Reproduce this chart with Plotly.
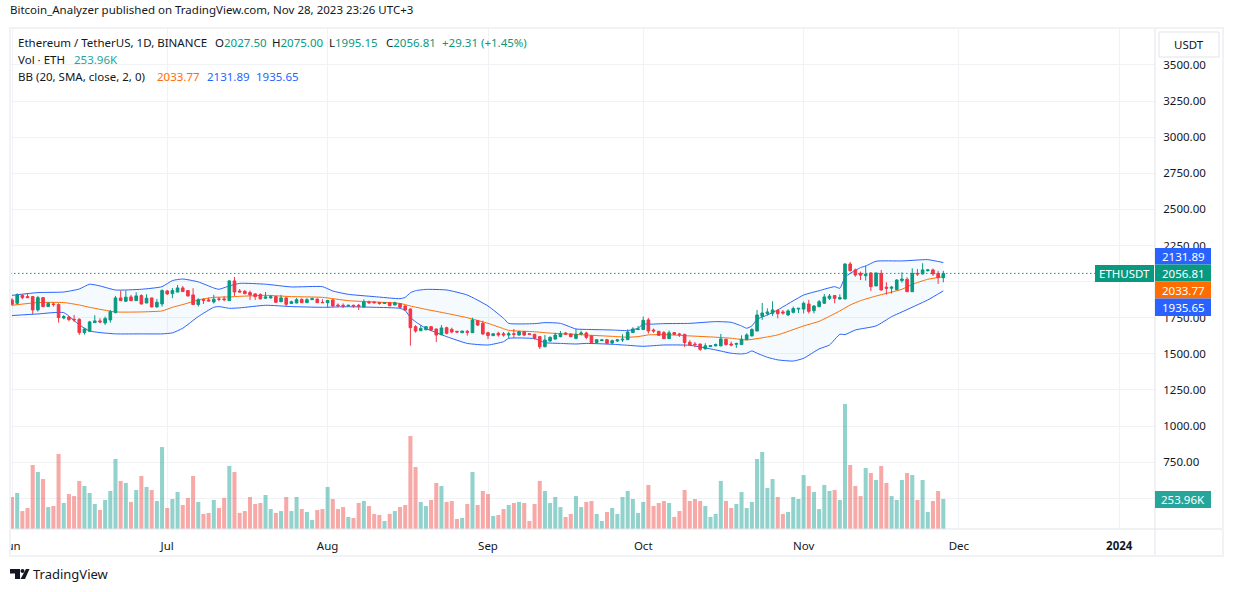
"""Ethereum / TetherUS daily chart with volume and Bollinger bands."""

import pandas as pd
import plotly.graph_objects as go

W, H = 1233, 592
FONT = "Noto Sans"
TEXT = "#131722"
GRID = "#f1f2f5"
EDGE = "#e0e3eb"
UP = "#089981"
DOWN = "#F23645"
BLUE = "#2962FF"
ORANGE = "#FF6D00"

dates = pd.date_range("2023-06-01", "2023-11-28", freq="D")

open_ = [
    1873, 1850, 1905, 1896, 1896, 1804, 1889, 1827, 1845, 1841, 1748, 1755, 1739, 1739, 1647,
    1656, 1716, 1728, 1714, 1735, 1785, 1887, 1864, 1894, 1868, 1903, 1852, 1887, 1825, 1845,
    1935, 1917, 1928, 1956, 1938, 1908, 1841, 1875, 1873, 1859, 1880, 1880, 1868, 2005, 1935, 1933,
    1924, 1915, 1910, 1885, 1887, 1896, 1861, 1887, 1848, 1852, 1877, 1854, 1875, 1879, 1856,
    1854, 1873, 1838, 1836, 1831, 1836, 1836, 1824, 1859, 1859, 1854, 1849, 1854, 1838, 1847, 1831,
    1810, 1688, 1660, 1667, 1688, 1672, 1632, 1681, 1669, 1656, 1646, 1656, 1646, 1729, 1711,
    1646, 1626, 1642, 1639, 1630, 1639, 1630, 1653, 1639, 1635, 1619, 1549, 1589, 1602, 1619,
    1644, 1637, 1607, 1637, 1644, 1624, 1578, 1591, 1598, 1575, 1589, 1596, 1598, 1647, 1668,
    1668, 1735, 1665, 1656, 1647, 1605, 1647, 1638, 1635, 1580, 1568, 1568, 1534, 1550, 1555, 1555,
    1601, 1568, 1566, 1564, 1598, 1624, 1658, 1760, 1778, 1781, 1801, 1790, 1769, 1787, 1810,
    1810, 1845, 1799, 1827, 1850, 1884, 1903, 1880, 1880, 2122, 2081, 2057, 2041, 2060,
    1970, 2057, 1961, 1954, 1944, 2007, 2016, 1930, 2057, 2053, 2076, 2081, 2057, 2027.5,
]
high = [
    1885, 1919, 1912, 1919, 1900, 1901, 1892, 1859, 1855, 1850, 1769, 1760, 1769, 1746, 1679,
    1728, 1767, 1746, 1758, 1804, 1901, 1938, 1938, 1908, 1926, 1912, 1912, 1889, 1880, 1947,
    1942, 1956, 1977, 1970, 1942, 1954, 1885, 1885, 1889, 1908, 1892, 1898, 2012, 2032, 1949, 1942,
    1938, 1919, 1919, 1928, 1908, 1901, 1908, 1892, 1868, 1887, 1884, 1886, 1889, 1884, 1879,
    1873, 1879, 1849, 1849, 1838, 1840, 1845, 1877, 1868, 1866, 1861, 1856, 1859, 1861, 1849, 1836,
    1815, 1699, 1699, 1692, 1692, 1674, 1699, 1688, 1681, 1656, 1658, 1665, 1750, 1734, 1729,
    1653, 1642, 1653, 1651, 1653, 1672, 1660, 1658, 1639, 1639, 1623, 1630, 1621, 1646, 1658,
    1651, 1642, 1672, 1660, 1653, 1628, 1603, 1603, 1603, 1598, 1603, 1635, 1670, 1684, 1693,
    1758, 1748, 1675, 1658, 1658, 1661, 1651, 1645, 1638, 1594, 1582, 1570, 1573, 1561, 1571, 1638,
    1603, 1585, 1578, 1628, 1642, 1677, 1804, 1852, 1815, 1864, 1808, 1804, 1808, 1827, 1817,
    1861, 1873, 1838, 1873, 1914, 1914, 1907, 1912, 2127, 2136, 2090, 2069, 2111, 2064,
    2062, 2081, 1995, 1970, 2016, 2064, 2030, 2092, 2087, 2127, 2087, 2090, 2074, 2075,
]
low = [
    1834, 1843, 1878, 1887, 1776, 1792, 1822, 1825, 1827, 1716, 1739, 1725, 1721, 1631, 1633,
    1654, 1714, 1711, 1700, 1716, 1781, 1866, 1859, 1866, 1866, 1841, 1850, 1820, 1820, 1827,
    1908, 1885, 1926, 1928, 1896, 1838, 1827, 1845, 1864, 1848, 1864, 1864, 1866, 1901, 1926, 1912,
    1873, 1873, 1878, 1880, 1882, 1852, 1857, 1831, 1845, 1850, 1852, 1852, 1873, 1852, 1852,
    1822, 1826, 1824, 1817, 1829, 1819, 1803, 1822, 1845, 1847, 1840, 1847, 1831, 1836, 1815, 1799,
    1556, 1646, 1658, 1662, 1658, 1582, 1630, 1635, 1642, 1644, 1646, 1626, 1644, 1692, 1632,
    1602, 1623, 1619, 1619, 1609, 1609, 1626, 1623, 1632, 1598, 1533, 1545, 1582, 1598, 1614,
    1630, 1614, 1600, 1628, 1602, 1568, 1575, 1589, 1566, 1564, 1582, 1582, 1596, 1645, 1665,
    1665, 1640, 1645, 1624, 1603, 1603, 1631, 1617, 1548, 1555, 1545, 1520, 1531, 1548, 1552, 1552,
    1557, 1552, 1541, 1561, 1596, 1621, 1656, 1735, 1765, 1762, 1746, 1771, 1762, 1780, 1783,
    1780, 1780, 1780, 1822, 1845, 1873, 1850, 1875, 1877, 2069, 2034, 2011, 2007, 1935,
    1970, 1937, 1910, 1917, 1942, 1993, 1928, 1928, 2039, 2050, 2069, 2039, 1984, 1995.15,
]
close = [
    1843, 1908, 1889, 1889, 1804, 1889, 1827, 1848, 1841, 1751, 1758, 1737, 1735, 1647, 1672,
    1721, 1728, 1721, 1744, 1792, 1887, 1868, 1892, 1868, 1901, 1845, 1885, 1825, 1857, 1938,
    1915, 1938, 1956, 1931, 1901, 1841, 1875, 1871, 1866, 1878, 1878, 1875, 2005, 1928, 1928, 1917,
    1908, 1896, 1880, 1894, 1896, 1857, 1887, 1843, 1861, 1875, 1854, 1875, 1882, 1854, 1854,
    1870, 1831, 1833, 1831, 1836, 1831, 1829, 1859, 1854, 1854, 1849, 1854, 1833, 1854, 1822, 1803,
    1681, 1658, 1676, 1688, 1665, 1630, 1679, 1642, 1651, 1651, 1658, 1649, 1734, 1699, 1637,
    1626, 1639, 1630, 1630, 1639, 1635, 1653, 1630, 1635, 1607, 1549, 1596, 1614, 1630, 1639,
    1637, 1619, 1635, 1644, 1614, 1578, 1598, 1596, 1573, 1591, 1596, 1601, 1651, 1672, 1672,
    1732, 1658, 1658, 1628, 1605, 1645, 1635, 1633, 1578, 1561, 1564, 1531, 1555, 1557, 1564, 1603,
    1564, 1561, 1571, 1601, 1631, 1668, 1769, 1783, 1790, 1804, 1778, 1783, 1797, 1813, 1815,
    1850, 1794, 1831, 1861, 1894, 1900, 1884, 1889, 2122, 2076, 2046, 2044, 2051, 1965,
    2060, 1942, 1954, 1961, 2011, 2018, 1930, 2057, 2053, 2081, 2081, 2053, 2027.5, 2056.81,
]
# volume in thousands of ETH
volume = [
    271, 305, 152, 178, 542, 483, 423, 186, 195, 635, 220, 296, 279, 407, 364,
    305, 212, 161, 246, 322, 593, 407, 390, 229, 330, 449, 356, 330, 237, 694,
    178, 254, 313, 203, 263, 449, 229, 127, 136, 246, 178, 263, 534, 483, 136, 152,
    271, 212, 220, 288, 169, 136, 152, 271, 152, 271, 169, 144, 76, 161, 169,
    356, 254, 169, 186, 102, 93, 220, 237, 195, 127, 119, 68, 127, 152, 186,
    203, 788, 525, 229, 195, 246, 390, 364, 229, 237, 85, 93, 212, 483, 203, 322,
    296, 110, 119, 169, 203, 220, 229, 220, 68, 212, 407, 322, 220, 271, 186,
    102, 127, 279, 186, 229, 237, 127, 68, 144, 178, 127, 271, 322, 254, 136,
    229, 373, 195, 220, 237, 220, 102, 152, 330, 237, 254, 237, 195, 102, 127, 407,
    237, 178, 212, 313, 178, 229, 593, 652, 347, 423, 271, 127, 144, 271, 254,
    457, 364, 313, 169, 373, 322, 330, 246, 1059, 542, 364, 279, 517, 474,
    415, 534, 390, 279, 246, 415, 474, 457, 246, 415, 144, 237, 322, 253.96,
]

upper_dates = [
    "2023-06-01", "2023-06-06", "2023-06-11", "2023-06-14", "2023-06-16", "2023-06-18", "2023-06-21",
    "2023-06-26", "2023-06-30", "2023-07-02", "2023-07-04", "2023-07-07", "2023-07-10", "2023-07-11",
    "2023-07-13", "2023-07-15", "2023-07-20", "2023-07-25", "2023-07-31", "2023-08-02", "2023-08-05",
    "2023-08-10", "2023-08-15", "2023-08-16", "2023-08-17", "2023-08-18", "2023-08-20", "2023-08-24",
    "2023-08-28", "2023-09-01", "2023-09-04", "2023-09-05", "2023-09-10", "2023-09-12", "2023-09-15",
    "2023-09-18", "2023-09-20", "2023-09-25", "2023-09-28", "2023-09-30", "2023-10-01", "2023-10-02",
    "2023-10-05", "2023-10-10", "2023-10-15", "2023-10-18", "2023-10-20", "2023-10-21", "2023-10-22",
    "2023-10-23", "2023-10-25", "2023-10-27", "2023-11-01", "2023-11-04", "2023-11-07", "2023-11-08",
    "2023-11-09", "2023-11-10", "2023-11-12", "2023-11-13", "2023-11-15", "2023-11-20", "2023-11-25",
    "2023-11-28",
]
bb_upper = [
    1905, 1924, 1928, 1949, 1982, 1970, 1942, 1947, 1965, 2007, 2018, 1998, 1956, 1947,
    1970, 1988, 1982, 1963, 1965, 1935, 1912, 1896, 1882, 1891, 1923, 1937, 1946, 1942,
    1907, 1831, 1746, 1711, 1709, 1716, 1711, 1672, 1669, 1665, 1661, 1677, 1707, 1705,
    1709, 1711, 1723, 1718, 1693, 1677, 1693, 1739, 1769, 1804, 1907, 1937, 1965, 1954,
    2030, 2057, 2097, 2108, 2141, 2143, 2152, 2131.89,
]
mid_dates = [
    "2023-06-01", "2023-06-06", "2023-06-11", "2023-06-14", "2023-06-16", "2023-06-21", "2023-06-26",
    "2023-06-30", "2023-07-02", "2023-07-04", "2023-07-07", "2023-07-10", "2023-07-13", "2023-07-15",
    "2023-07-20", "2023-07-25", "2023-07-31", "2023-08-05", "2023-08-10", "2023-08-15", "2023-08-17",
    "2023-08-20", "2023-08-24", "2023-08-28", "2023-09-01", "2023-09-04", "2023-09-05", "2023-09-10",
    "2023-09-12", "2023-09-15", "2023-09-18", "2023-09-20", "2023-09-25", "2023-09-28", "2023-09-30",
    "2023-10-02", "2023-10-05", "2023-10-10", "2023-10-15", "2023-10-18", "2023-10-21", "2023-10-23",
    "2023-10-25", "2023-10-27", "2023-11-01", "2023-11-04", "2023-11-08", "2023-11-10", "2023-11-12",
    "2023-11-15", "2023-11-20", "2023-11-22", "2023-11-25", "2023-11-28",
]
bb_mid = [
    1836, 1855, 1855, 1838, 1822, 1790, 1790, 1797, 1822, 1841, 1873, 1891, 1894, 1898,
    1905, 1896, 1891, 1868, 1859, 1849, 1831, 1808, 1780, 1750, 1711, 1674, 1662, 1653,
    1646, 1639, 1635, 1630, 1621, 1615, 1619, 1631, 1633, 1624, 1615, 1608, 1596, 1605,
    1617, 1631, 1693, 1725, 1797, 1838, 1868, 1900, 1947, 1981, 2016, 2033.77,
]
lower_dates = [
    "2023-06-01", "2023-06-06", "2023-06-11", "2023-06-14", "2023-06-16", "2023-06-18", "2023-06-21",
    "2023-06-26", "2023-06-30", "2023-07-02", "2023-07-04", "2023-07-07", "2023-07-10", "2023-07-11",
    "2023-07-13", "2023-07-15", "2023-07-20", "2023-07-25", "2023-07-31", "2023-08-05", "2023-08-10",
    "2023-08-15", "2023-08-16", "2023-08-17", "2023-08-18", "2023-08-20", "2023-08-24", "2023-08-28",
    "2023-09-01", "2023-09-04", "2023-09-05", "2023-09-10", "2023-09-12", "2023-09-15", "2023-09-18",
    "2023-09-20", "2023-09-25", "2023-09-28", "2023-10-01", "2023-10-05", "2023-10-10", "2023-10-15",
    "2023-10-18", "2023-10-20", "2023-10-21", "2023-10-22", "2023-10-23", "2023-10-25", "2023-10-27",
    "2023-10-30", "2023-11-01", "2023-11-04", "2023-11-06", "2023-11-08", "2023-11-09", "2023-11-11",
    "2023-11-15", "2023-11-18", "2023-11-20", "2023-11-25", "2023-11-28",
]
bb_lower = [
    1765, 1776, 1785, 1700, 1658, 1647, 1638, 1638, 1638, 1645, 1677, 1758, 1822, 1827,
    1815, 1818, 1836, 1827, 1822, 1826, 1822, 1815, 1799, 1752, 1722, 1676, 1619, 1572,
    1561, 1584, 1607, 1605, 1577, 1572, 1568, 1572, 1566, 1559, 1552, 1561, 1559, 1527,
    1504, 1499, 1504, 1520, 1504, 1476, 1458, 1450, 1469, 1534, 1561, 1635, 1633, 1665,
    1693, 1757, 1790, 1873, 1935.65,
]

price_ticks = [500, 750, 1000, 1250, 1500, 1750, 2000, 2250, 2500, 2750, 3000, 3250, 3500]
# 500 and 2000 sit fully behind the value tags, so only their grid lines show
price_labels = ["", "750.00", "1000.00", "1250.00", "1500.00", "1750.00", "", "2250.00",
                "2500.00", "2750.00", "3000.00", "3250.00", "3500.00"]
month_ticks = ["2023-06-01", "2023-07-01", "2023-08-01", "2023-09-01", "2023-10-01",
               "2023-11-01", "2023-12-01", "2024-01-01"]
month_labels = ["Jun", "Jul", "Aug", "Sep", "Oct", "Nov", "Dec", "<b>2024</b>"]

assert len(dates) == len(open_) == len(high) == len(low) == len(close) == len(volume)
assert len(upper_dates) == len(bb_upper) and len(mid_dates) == len(bb_mid) and len(lower_dates) == len(bb_lower)

price_range = [287, 3756]
volume_range = [0, 4243]
x_range = ["2023-05-31 14:40", "2024-01-07 22:00"]
vol_colors = ["rgba(38,166,154,0.5)" if c >= o else "rgba(239,83,80,0.5)" for o, c in zip(open_, close)]


def _x(px):
    return px / W


def _y(py):
    return 1 - py / H


def _rect(x0, y0, x1, y1, fill=None, line=None, width=1):
    return dict(type="rect", xref="paper", yref="paper", x0=_x(x0), x1=_x(x1), y0=_y(y0), y1=_y(y1),
                fillcolor=fill or "rgba(0,0,0,0)", line=dict(color=line or "rgba(0,0,0,0)", width=width),
                layer="above")


def _seg(x0, y0, x1, y1, color, width=1):
    return dict(type="line", xref="paper", yref="paper", x0=_x(x0), x1=_x(x1), y0=_y(y0), y1=_y(y1),
                line=dict(color=color, width=width), layer="above")


def _poly(points, fill):
    path = "M " + " L ".join(f"{_x(a):.5f},{_y(b):.5f}" for a, b in points) + " Z"
    return dict(type="path", xref="paper", yref="paper", path=path, fillcolor=fill,
                line=dict(width=0), layer="above")


def _label(x, y, text, color=TEXT, size=12, anchor="left"):
    # plotly pads annotation text by about 2px on the left
    shift = 2 if anchor == "left" else 0
    return dict(x=_x(x - shift), y=_y(y), xref="paper", yref="paper", text=text, showarrow=False,
                xanchor=anchor, yanchor="middle", font=dict(family=FONT, size=size, color=color))


fig = go.Figure()
fig.add_trace(go.Bar(x=dates, y=volume, yaxis="y2", marker=dict(color=vol_colors, line=dict(width=0)),
                     width=0.78 * 86400000, showlegend=False))
# band fill goes between the upper and lower traces
fig.add_trace(go.Scatter(x=upper_dates, y=bb_upper, mode="lines", showlegend=False,
                         line=dict(color=BLUE, width=1, shape="spline", smoothing=0.5)))
fig.add_trace(go.Scatter(x=lower_dates, y=bb_lower, mode="lines", showlegend=False, fill="tonexty",
                         fillcolor="rgba(33,150,243,0.05)",
                         line=dict(color=BLUE, width=1, shape="spline", smoothing=0.5)))
fig.add_trace(go.Scatter(x=mid_dates, y=bb_mid, mode="lines", showlegend=False,
                         line=dict(color=ORANGE, width=1, shape="spline", smoothing=0.5)))
fig.add_trace(go.Candlestick(x=dates, open=open_, high=high, low=low, close=close, yaxis="y3",
                             showlegend=False, whiskerwidth=0,
                             increasing=dict(line=dict(color=UP, width=1), fillcolor=UP),
                             decreasing=dict(line=dict(color=DOWN, width=1), fillcolor=DOWN)))

tag_rows = [
    (248, 264.5, BLUE, "2131.89"),
    (264.5, 281.5, UP, "2056.81"),
    (281.5, 298.5, ORANGE, "2033.77"),
    (298.5, 316, BLUE, "1935.65"),
    (491, 508, "#26a69a", "253.96K"),
]

shapes = [
    # last close, dotted across the pane
    dict(type="line", xref="paper", yref="y", x0=_x(10), x1=_x(1095), y0=close[-1], y1=close[-1],
         line=dict(color=UP, width=1, dash="1.5px,2.5px"), layer="above"),
    _rect(0, 530, 10, 556, fill="white"),
    _seg(10, 529, 1223, 529, EDGE),
    _seg(1155, 28, 1155, 556, EDGE),
    _rect(10, 28, 1223, 556, line=GRID, width=2),
    _rect(1159, 32, 1219, 57, fill="white", line=EDGE),
    _rect(1095, 265, 1154, 282, fill=UP),
    # TradingView mark
    _poly([(10, 569), (20, 569), (20, 579), (15, 579), (15, 573.5), (10, 573.5)], TEXT),
    _poly([(26, 569), (29.5, 569), (25, 579), (20.5, 579)], TEXT),
    dict(type="circle", xref="paper", yref="paper", x0=_x(20.5), x1=_x(24.5), y0=_y(569), y1=_y(573),
         fillcolor=TEXT, line=dict(width=0), layer="above"),
]
annotations = [
    _label(10, 9, "Bitcoin_Analyzer published on TradingView.com, Nov 28, 2023 23:26 UTC+3", size=11.5),
    _label(18, 42, "Ethereum / TetherUS, 1D, BINANCE", size=11.5),
    _label(215, 42, f"O<span style='color:{UP}'>2027.50</span>", size=11.5),
    _label(272, 42, f"H<span style='color:{UP}'>2075.00</span>", size=11.5),
    _label(329, 42, f"L<span style='color:{UP}'>1995.15</span>", size=11.5),
    _label(386, 42, f"C<span style='color:{UP}'>2056.81</span>", size=11.5),
    _label(442, 42, "+29.31 (+1.45%)", color=UP, size=11.5),
    _label(18, 59, "Vol · ETH", size=11.5),
    _label(74, 59, "253.96K", color="#26a69a", size=11.5),
    _label(18, 76, "BB (20, SMA, close, 2, 0)", size=11.5),
    _label(157, 76, "2033.77", color=ORANGE, size=11.5),
    _label(207, 76, "2131.89", color=BLUE, size=11.5),
    _label(256, 76, "1935.65", color=BLUE, size=11.5),
    _label(1189, 44, "USDT", size=11.5, anchor="center"),
    _label(1124.5, 273.5, "ETHUSDT", color="white", size=11.5, anchor="center"),
    _label(33, 574, "TradingView", size=13),
]
for top, bottom, color, text in tag_rows:
    shapes.append(_rect(1155, top, 1211, bottom, fill=color))
    annotations.append(_label(1183, (top + bottom) / 2, text, color="white", size=11.5, anchor="center"))

fig.update_layout(
    width=W,
    height=H,
    margin=dict(l=0, r=0, t=0, b=0),
    paper_bgcolor="white",
    plot_bgcolor="white",
    showlegend=False,
    boxgap=0.28,
    hovermode=False,
    font=dict(family=FONT, size=12, color=TEXT),
    xaxis=dict(
        type="date",
        automargin=False,
        domain=[_x(10), _x(1155)],
        range=x_range,
        rangeslider=dict(visible=False),
        tickmode="array",
        tickvals=month_ticks,
        ticktext=month_labels,
        showgrid=True,
        gridcolor=GRID,
        gridwidth=1,
        ticks="outside",
        ticklen=6,
        tickcolor="rgba(0,0,0,0)",
        tickfont=dict(family=FONT, size=11.5, color=TEXT),
        showline=False,
        zeroline=False,
        anchor="y",
    ),
    yaxis=dict(
        automargin=False,
        domain=[_y(529), _y(28)],
        range=price_range,
        side="right",
        tickmode="array",
        tickvals=price_ticks,
        ticktext=price_labels,
        showgrid=True,
        gridcolor=GRID,
        gridwidth=1,
        ticks="outside",
        ticklen=5,
        tickcolor="rgba(0,0,0,0)",
        tickfont=dict(family=FONT, size=11.5, color=TEXT),
        showline=False,
        zeroline=False,
    ),
    yaxis2=dict(overlaying="y", range=volume_range, visible=False, showgrid=False, automargin=False),
    yaxis3=dict(overlaying="y", range=price_range, visible=False, showgrid=False, automargin=False),
    shapes=shapes,
    annotations=annotations,
)

fig.write_html("out.html", config=dict(displayModeBar=False),
               post_script="document.body.style.margin='0';document.body.style.overflow='hidden';")
